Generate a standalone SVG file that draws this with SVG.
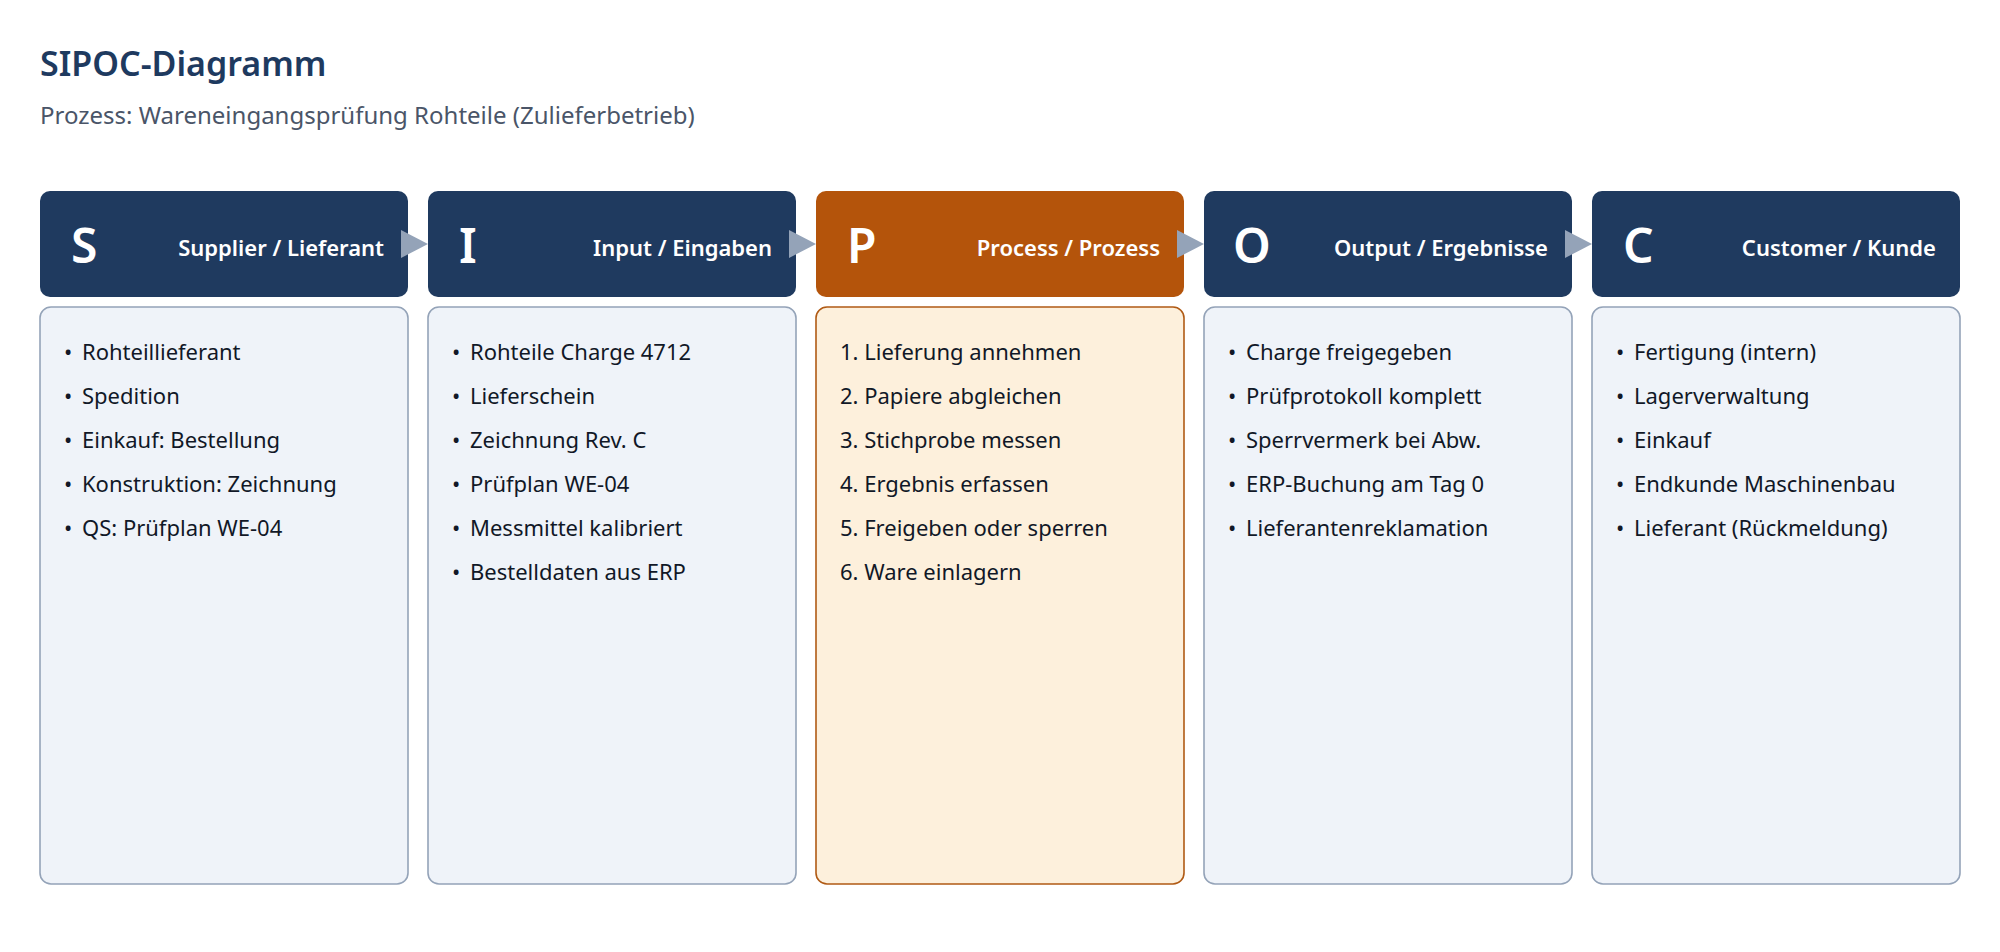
<svg xmlns="http://www.w3.org/2000/svg" width="2000" height="952" viewBox="0 0 2000 952">
<style>
text{font-family:"Noto Sans","Open Sans","Liberation Sans",sans-serif}
.title{font-size:34px;font-weight:600;fill:#1e3a5f}
.sub{font-size:24px;fill:#4a5568}
.hd{fill:#1f3a5f}
.hdp{fill:#b4540b}
.letter{font-size:48px;font-weight:600;fill:#ffffff}
.lbl{font-size:22px;font-weight:600;fill:#ffffff;text-anchor:end}
.body{fill:#eff3f9;stroke:#94a3b8;stroke-width:1.6}
.bodyp{fill:#fdf0dc;stroke:#b05a14;stroke-width:1.6}
.item{font-size:22px;fill:#111827}
.arrow{fill:#94a3b8}
</style>
<rect width="2000" height="952" fill="#ffffff"/>
<text class="title" x="40" y="76">SIPOC-Diagramm</text>
<text class="sub" x="40" y="124">Prozess: Wareneingangsprüfung Rohteile (Zulieferbetrieb)</text>

<g id="supplier">
<rect class="hd" x="40" y="191" width="368" height="106" rx="10"/>
<text class="letter" x="71" y="263">S</text>
<text class="lbl" x="384" y="256">Supplier / Lieferant</text>
<rect class="body" x="40" y="307" width="368" height="577" rx="11"/>
<g class="item">
<text x="64" y="360">•</text><text x="82" y="360">Rohteillieferant</text>
<text x="64" y="404">•</text><text x="82" y="404">Spedition</text>
<text x="64" y="448">•</text><text x="82" y="448">Einkauf: Bestellung</text>
<text x="64" y="492">•</text><text x="82" y="492">Konstruktion: Zeichnung</text>
<text x="64" y="536">•</text><text x="82" y="536">QS: Prüfplan WE-04</text>
</g>
</g>

<g id="input">
<rect class="hd" x="428" y="191" width="368" height="106" rx="10"/>
<text class="letter" x="459" y="263">I</text>
<text class="lbl" x="772" y="256">Input / Eingaben</text>
<rect class="body" x="428" y="307" width="368" height="577" rx="11"/>
<g class="item">
<text x="452" y="360">•</text><text x="470" y="360">Rohteile Charge 4712</text>
<text x="452" y="404">•</text><text x="470" y="404">Lieferschein</text>
<text x="452" y="448">•</text><text x="470" y="448">Zeichnung Rev. C</text>
<text x="452" y="492">•</text><text x="470" y="492">Prüfplan WE-04</text>
<text x="452" y="536">•</text><text x="470" y="536">Messmittel kalibriert</text>
<text x="452" y="580">•</text><text x="470" y="580">Bestelldaten aus ERP</text>
</g>
</g>

<g id="process">
<rect class="hdp" x="816" y="191" width="368" height="106" rx="10"/>
<text class="letter" x="847" y="263">P</text>
<text class="lbl" x="1160" y="256">Process / Prozess</text>
<rect class="bodyp" x="816" y="307" width="368" height="577" rx="11"/>
<g class="item">
<text x="840" y="360">1. Lieferung annehmen</text>
<text x="840" y="404">2. Papiere abgleichen</text>
<text x="840" y="448">3. Stichprobe messen</text>
<text x="840" y="492">4. Ergebnis erfassen</text>
<text x="840" y="536">5. Freigeben oder sperren</text>
<text x="840" y="580">6. Ware einlagern</text>
</g>
</g>

<g id="output">
<rect class="hd" x="1204" y="191" width="368" height="106" rx="10"/>
<text class="letter" x="1233" y="263">O</text>
<text class="lbl" x="1548" y="256">Output / Ergebnisse</text>
<rect class="body" x="1204" y="307" width="368" height="577" rx="11"/>
<g class="item">
<text x="1228" y="360">•</text><text x="1246" y="360">Charge freigegeben</text>
<text x="1228" y="404">•</text><text x="1246" y="404">Prüfprotokoll komplett</text>
<text x="1228" y="448">•</text><text x="1246" y="448">Sperrvermerk bei Abw.</text>
<text x="1228" y="492">•</text><text x="1246" y="492">ERP-Buchung am Tag 0</text>
<text x="1228" y="536">•</text><text x="1246" y="536">Lieferantenreklamation</text>
</g>
</g>

<g id="customer">
<rect class="hd" x="1592" y="191" width="368" height="106" rx="10"/>
<text class="letter" x="1623" y="263">C</text>
<text class="lbl" x="1936" y="256">Customer / Kunde</text>
<rect class="body" x="1592" y="307" width="368" height="577" rx="11"/>
<g class="item">
<text x="1616" y="360">•</text><text x="1634" y="360">Fertigung (intern)</text>
<text x="1616" y="404">•</text><text x="1634" y="404">Lagerverwaltung</text>
<text x="1616" y="448">•</text><text x="1634" y="448">Einkauf</text>
<text x="1616" y="492">•</text><text x="1634" y="492">Endkunde Maschinenbau</text>
<text x="1616" y="536">•</text><text x="1634" y="536">Lieferant (Rückmeldung)</text>
</g>
</g>

<g id="connectors">
<polygon class="arrow" points="401,230 428,244 401,258"/>
<polygon class="arrow" points="789,230 816,244 789,258"/>
<polygon class="arrow" points="1177,230 1204,244 1177,258"/>
<polygon class="arrow" points="1565,230 1592,244 1565,258"/>
</g>
</svg>
